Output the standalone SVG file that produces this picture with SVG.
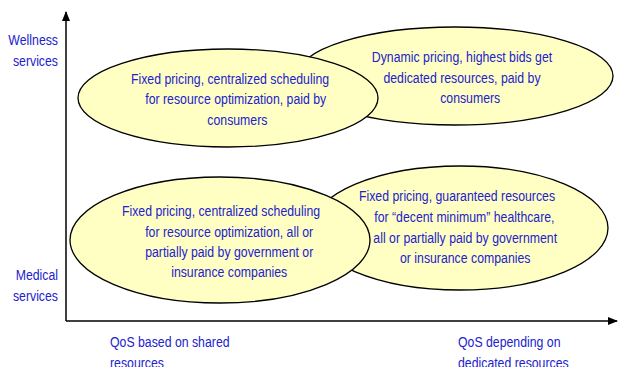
<svg xmlns="http://www.w3.org/2000/svg" width="618" height="367" viewBox="0 0 618 367">
<style>
.e{fill:#ffffc4;stroke:#000;stroke-width:1.3}
.t{font-family:"Liberation Sans",Arial,sans-serif;font-size:15px;fill:#2222cc;text-anchor:middle}
.l{font-family:"Liberation Sans",Arial,sans-serif;font-size:15px;fill:#2222cc}
.ax{stroke:#000;stroke-width:1.5;fill:none}
</style>
<defs>
<marker id="ah" markerWidth="10" markerHeight="10" refX="9" refY="5" orient="auto" markerUnits="userSpaceOnUse">
<path d="M0,1 L10,5 L0,9 Z" fill="#000"/>
</marker>
</defs>
<rect width="618" height="367" fill="#fff"/>
<g id="axes">
<path class="ax" d="M66,321 L66,12" marker-end="url(#ah)"/>
<path class="ax" d="M66,321 L617,321" marker-end="url(#ah)"/>
</g>
<g id="n2">
<ellipse class="e" cx="455" cy="76" rx="158" ry="49"/>
<text class="t" transform="translate(462 0) scale(0.82 1)"><tspan x="0" y="62">Dynamic pricing, highest bids get</tspan><tspan x="0" y="83">dedicated resources, paid by</tspan><tspan x="10" y="103">consumers</tspan></text>
</g>
<g id="n1">
<ellipse class="e" cx="228" cy="98" rx="150" ry="49"/>
<text class="t" transform="translate(230 0) scale(0.82 1)"><tspan x="0" y="84">Fixed pricing, centralized scheduling</tspan><tspan x="7" y="104">for resource optimization, paid by</tspan><tspan x="9" y="125">consumers</tspan></text>
</g>
<g id="n4">
<ellipse class="e" cx="460" cy="228" rx="148" ry="62"/>
<text class="t" transform="translate(457 0) scale(0.82 1)"><tspan x="0" y="201">Fixed pricing, guaranteed resources</tspan><tspan x="9" y="222">for “decent minimum” healthcare,</tspan><tspan x="10" y="243">all or partially paid by government</tspan><tspan x="10" y="263">or insurance companies</tspan></text>
</g>
<g id="n3">
<ellipse class="e" cx="220" cy="240" rx="150" ry="63"/>
<text class="t" transform="translate(221 0) scale(0.82 1)"><tspan x="0" y="216">Fixed pricing, centralized scheduling</tspan><tspan x="10" y="237">for resource optimization, all or</tspan><tspan x="10" y="257">partially paid by government or</tspan><tspan x="10" y="277">insurance companies</tspan></text>
</g>
<g id="labels">
<text class="l" text-anchor="end" transform="translate(58 0) scale(0.82 1)"><tspan x="0" y="45">Wellness</tspan><tspan x="0" y="66">services</tspan></text>
<text class="l" text-anchor="end" transform="translate(58 0) scale(0.82 1)"><tspan x="0" y="280">Medical</tspan><tspan x="0" y="301">services</tspan></text>
<text class="l" transform="translate(110 0) scale(0.82 1)"><tspan x="0" y="347">QoS based on shared</tspan><tspan x="0" y="368">resources</tspan></text>
<text class="l" transform="translate(458 0) scale(0.82 1)"><tspan x="0" y="347">QoS depending on</tspan><tspan x="0" y="368">dedicated resources</tspan></text>
</g>
</svg>
